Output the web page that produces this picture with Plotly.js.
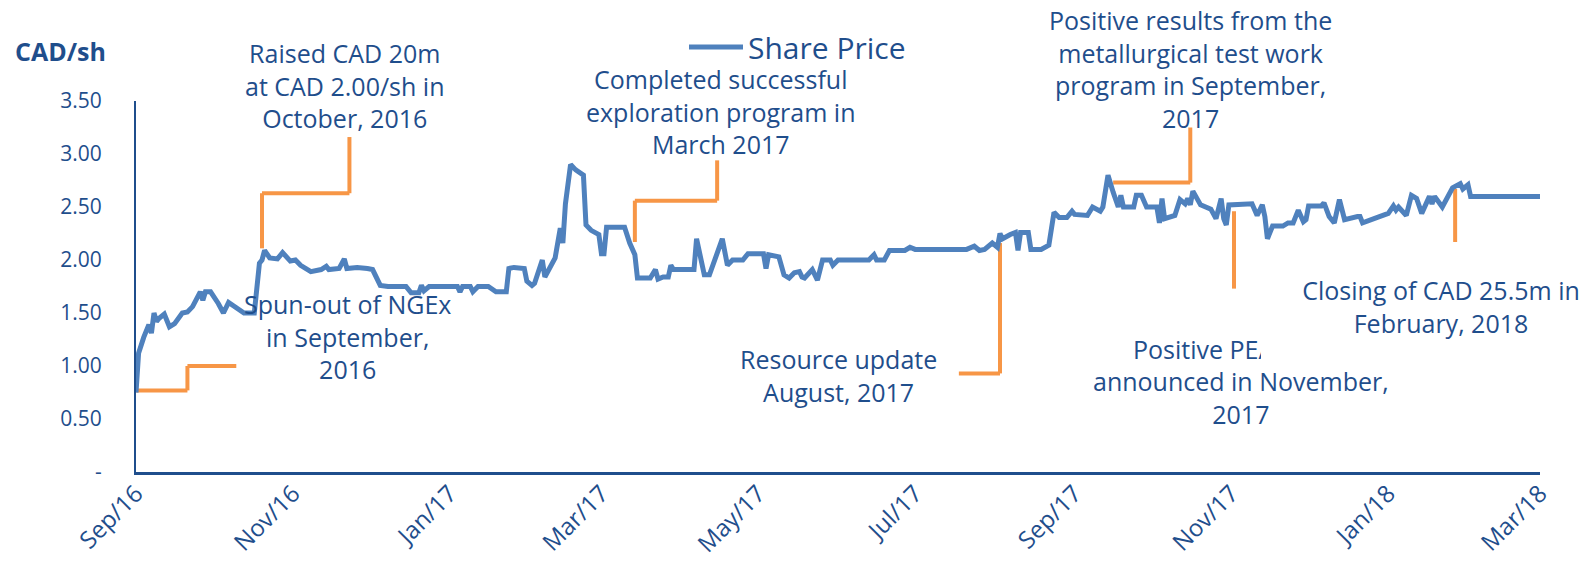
<!DOCTYPE html>
<html>
<head>
<meta charset="utf-8">
<script src="https://cdn.plot.ly/plotly-3.0.1.min.js"></script>
<style>html,body{margin:0;padding:0;background:#fff;}#chart{width:1592px;height:563px;}</style>
</head>
<body>
<div id="chart"></div>
<script>
// ---- Data ----
const seriesName = 'Share Price';
const dates = [
  '2016-09-01','2016-09-02','2016-09-04','2016-09-06','2016-09-07','2016-09-08','2016-09-09','2016-09-10','2016-09-12','2016-09-14','2016-09-16','2016-09-19','2016-09-21','2016-09-23','2016-09-26','2016-09-27','2016-09-28','2016-09-30',
  '2016-10-03','2016-10-05','2016-10-07','2016-10-10','2016-10-13','2016-10-17','2016-10-19','2016-10-20','2016-10-21','2016-10-23','2016-10-26','2016-10-28','2016-10-31',
  '2016-11-02','2016-11-04','2016-11-08','2016-11-12','2016-11-14','2016-11-15','2016-11-19','2016-11-21','2016-11-22','2016-11-26','2016-11-30',
  '2016-12-02','2016-12-05','2016-12-08','2016-12-15','2016-12-17','2016-12-20','2016-12-21','2016-12-22','2016-12-24',
  '2017-01-04','2017-01-05','2017-01-06','2017-01-09','2017-01-10','2017-01-12','2017-01-16','2017-01-19','2017-01-23','2017-01-24','2017-01-26','2017-01-30','2017-01-31',
  '2017-02-02','2017-02-03','2017-02-06','2017-02-07','2017-02-10','2017-02-11','2017-02-13','2017-02-14','2017-02-15','2017-02-17','2017-02-19','2017-02-22','2017-02-23','2017-02-25','2017-02-28',
  '2017-03-01','2017-03-02','2017-03-03','2017-03-10','2017-03-12','2017-03-14','2017-03-15','2017-03-20','2017-03-22','2017-03-23','2017-03-25','2017-03-27','2017-03-28','2017-03-29',
  '2017-04-06','2017-04-07','2017-04-10','2017-04-12','2017-04-14','2017-04-17','2017-04-19','2017-04-21','2017-04-25','2017-04-27',
  '2017-05-03','2017-05-04','2017-05-05','2017-05-09','2017-05-11','2017-05-13','2017-05-15','2017-05-17','2017-05-18','2017-05-19','2017-05-22','2017-05-24','2017-05-26','2017-05-29','2017-05-30',
  '2017-06-01','2017-06-13','2017-06-15','2017-06-16','2017-06-19','2017-06-21','2017-06-27','2017-06-29',
  '2017-07-01','2017-07-21','2017-07-24','2017-07-26','2017-07-28','2017-07-31',
  '2017-08-02','2017-08-03','2017-08-04','2017-08-07','2017-08-09','2017-08-10','2017-08-11','2017-08-14','2017-08-15','2017-08-19','2017-08-22','2017-08-24','2017-08-26','2017-08-29','2017-08-31',
  '2017-09-01','2017-09-06','2017-09-08','2017-09-11','2017-09-12','2017-09-14','2017-09-16','2017-09-18','2017-09-19','2017-09-20','2017-09-24','2017-09-25','2017-09-27','2017-09-29',
  '2017-10-03','2017-10-04','2017-10-05','2017-10-06','2017-10-10','2017-10-12','2017-10-14','2017-10-15','2017-10-16','2017-10-17','2017-10-20','2017-10-24','2017-10-26','2017-10-28','2017-10-29','2017-10-30','2017-10-31',
  '2017-11-08','2017-11-09','2017-11-11','2017-11-13','2017-11-14','2017-11-15','2017-11-17','2017-11-21','2017-11-23','2017-11-25','2017-11-27','2017-11-29','2017-11-30',
  '2017-12-01','2017-12-06','2017-12-07','2017-12-09','2017-12-11','2017-12-13','2017-12-15','2017-12-20','2017-12-21','2017-12-22','2017-12-28',
  '2018-01-01','2018-01-03','2018-01-04','2018-01-05','2018-01-08','2018-01-10','2018-01-12','2018-01-14','2018-01-17','2018-01-18','2018-01-19','2018-01-22','2018-01-24','2018-01-26','2018-01-29','2018-01-30',
  '2018-02-01','2018-02-02','2018-03-01'
];
const prices = [
  0.75,1.12,1.27,1.39,1.31,1.50,1.42,1.45,1.49,1.37,1.40,1.50,1.51,1.56,1.70,1.62,1.70,1.70,
  1.59,1.50,1.60,1.55,1.50,1.50,1.97,2.00,2.09,2.02,2.01,2.07,1.99,
  2.00,1.95,1.89,1.91,1.94,1.91,1.92,2.01,1.92,1.93,1.92,
  1.91,1.76,1.75,1.75,1.69,1.69,1.76,1.71,1.75,
  1.75,1.70,1.75,1.75,1.70,1.75,1.75,1.70,1.70,1.92,1.93,1.92,1.80,
  1.76,1.78,2.00,1.84,1.98,2.02,2.30,2.16,2.53,2.90,2.85,2.80,2.33,2.28,2.24,
  2.06,2.06,2.31,2.31,2.16,2.05,1.83,1.83,1.91,1.82,1.84,1.84,1.95,1.91,
  1.91,2.20,1.86,1.86,2.00,2.20,1.95,2.00,2.00,2.06,
  2.06,1.92,2.05,2.03,1.86,1.83,1.88,1.89,1.84,1.83,1.91,1.81,2.00,2.00,1.95,
  2.00,2.00,2.05,2.00,2.00,2.09,2.09,2.12,
  2.10,2.10,2.13,2.09,2.10,2.16,
  2.12,2.25,2.20,2.24,2.26,2.09,2.26,2.26,2.10,2.10,2.14,2.45,2.40,2.40,2.46,
  2.43,2.42,2.50,2.46,2.50,2.80,2.64,2.50,2.61,2.50,2.50,2.61,2.61,2.50,
  2.50,2.35,2.58,2.39,2.42,2.57,2.53,2.58,2.52,2.65,2.52,2.48,2.39,2.58,2.39,2.33,2.52,
  2.53,2.53,2.42,2.52,2.41,2.20,2.32,2.32,2.35,2.35,2.47,2.36,2.38,
  2.51,2.51,2.54,2.41,2.35,2.57,2.38,2.41,2.41,2.35,2.41,
  2.44,2.51,2.47,2.50,2.42,2.61,2.58,2.44,2.60,2.53,2.60,2.50,2.60,2.68,2.72,2.67,
  2.71,2.60,2.60
];
const yTickVals = [0, 0.5, 1.0, 1.5, 2.0, 2.5, 3.0, 3.5];
const yTickText = ['-', '0.50', '1.00', '1.50', '2.00', '2.50', '3.00', '3.50'];
const yUnit = 'CAD/sh';
const eventTexts = [
  'Raised CAD 20m<br>at CAD 2.00/sh in<br>October, 2016',
  'Spun-out of NGEx<br>in September,<br>2016',
  'Completed successful<br>exploration program in<br>March 2017',
  'Resource update<br>August, 2017',
  'Positive results from the<br>metallurgical test work<br>program in September,<br>2017',
  'Positive PEA',
  'announced in November,<br>2017',
  'Closing of CAD 25.5m in<br>February, 2018'
];

// ---- Styling / layout ----
const TXT = '#1F4E8C';
const BLUE = '#4F81BD';
const ORANGE = '#F79646';
const FONT = '"Open Sans", "Noto Sans", sans-serif';
const M = {l: 136, r: 52, t: 101, b: 91};
const PW = 1592 - M.l - M.r, PH = 563 - M.t - M.b;
const px2x = px => (px - M.l) / PW;
const py2y = py => (563 - M.b - py) / PH;

// leader lines of the event call-outs (vertices in axis units)
const leaders = [
  [['2016-09-01', 0.77], ['2016-09-21', 0.77], ['2016-09-21', 1.00], ['2016-10-10', 1.00]],
  [['2016-10-20', 2.11], ['2016-10-20', 2.63], ['2016-11-23', 2.63], ['2016-11-23', 3.16]],
  [['2017-03-14', 2.17], ['2017-03-14', 2.56], ['2017-04-15', 2.56], ['2017-04-15', 2.94]],
  [['2017-08-03', 2.16], ['2017-08-03', 0.93], ['2017-07-18', 0.93]],
  [['2017-09-16', 2.73], ['2017-10-16', 2.73], ['2017-10-16', 3.25]],
  [['2017-11-02', 2.46], ['2017-11-02', 1.73]],
  [['2018-01-27', 2.67], ['2018-01-27', 2.17]]
];
const shapes = [];
leaders.forEach(pts => {
  for (let i = 0; i < pts.length - 1; i++) {
    shapes.push({type: 'line', xref: 'x', yref: 'y', layer: 'below',
      x0: pts[i][0], y0: pts[i][1], x1: pts[i+1][0], y1: pts[i+1][1],
      line: {color: ORANGE, width: 4}});
  }
});

const annFont = {family: FONT, size: 25, color: TXT};
function ann(text, cx, cy, extra) {
  return Object.assign({text: text, xref: 'paper', yref: 'paper', x: px2x(cx), y: py2y(cy),
    xanchor: 'center', yanchor: 'middle', showarrow: false, align: 'center', font: annFont}, extra || {});
}
const annotations = [
  {text: '<b>' + yUnit + '</b>', xref: 'paper', yref: 'paper', x: px2x(13), y: py2y(51),
   xanchor: 'left', yanchor: 'middle', showarrow: false, font: {family: FONT, size: 25, color: TXT}},
  ann(eventTexts[0], 345, 85.5),
  ann(eventTexts[1], 347, 336.5),
  ann(eventTexts[2], 720, 112),
  ann(eventTexts[3], 838, 375),
  ann(eventTexts[4], 1190, 68.5),
  ann(eventTexts[5], 1131, 349, {xanchor: 'left'}),
  ann(eventTexts[6], 1241, 397),
  // text box with white fill (it overlaps the end of the "Positive PEA" line, as in the original)
  ann(eventTexts[7], 1441, 271, {yanchor: 'top', valign: 'top', bgcolor: '#ffffff',
    borderwidth: 0, width: 356, height: 84, borderpad: 2})
];

const trace = {
  type: 'scatter', mode: 'lines', name: seriesName,
  x: dates, y: prices,
  line: {color: BLUE, width: 5},
  cliponaxis: false
};

const layout = {
  width: 1592, height: 563,
  margin: M,
  paper_bgcolor: '#ffffff', plot_bgcolor: '#ffffff',
  font: {family: FONT, color: TXT},
  showlegend: true,
  legend: {x: px2x(684), y: py2y(47), xanchor: 'left', yanchor: 'middle',
    bgcolor: 'rgba(0,0,0,0)', font: {family: FONT, size: 30, color: TXT}, itemwidth: 54},
  xaxis: {
    type: 'date', range: ['2016-09-01', '2018-03-01'],
    tick0: '2016-09-01', dtick: 'M2', tickformat: '%b/%y', tickangle: -45,
    showgrid: false, zeroline: false, showline: true, linecolor: TXT, linewidth: 3,
    ticks: '', ticklabelstandoff: -5, tickfont: {family: FONT, size: 24, color: TXT}, fixedrange: true
  },
  yaxis: {
    range: [0, 3.5], tickvals: yTickVals, ticktext: yTickText,
    showgrid: false, zeroline: false, showline: true, linecolor: TXT, linewidth: 2,
    ticks: '', ticklabelstandoff: 28, tickfont: {family: FONT, size: 21, color: TXT}, fixedrange: true
  },
  shapes: shapes,
  annotations: annotations
};

Plotly.newPlot('chart', [trace], layout, {displayModeBar: false, staticPlot: true});
</script>
</body>
</html>
